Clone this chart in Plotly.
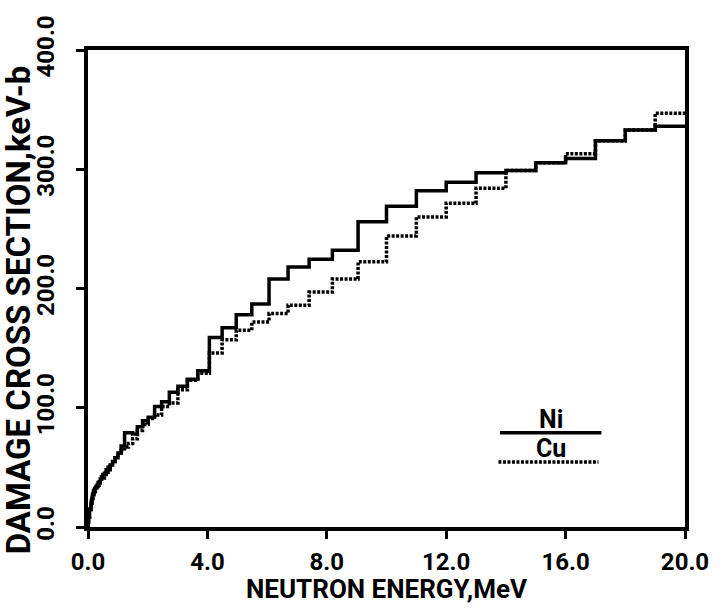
import plotly.graph_objects as go

# Lower edges of the energy groups (MeV); the last group ends at 20 MeV
group_low_mev = [
    0.0, 0.001, 0.01, 0.02, 0.05,
    0.100, 0.111, 0.123, 0.136, 0.150, 0.166, 0.183, 0.202, 0.224, 0.247,
    0.273, 0.302, 0.334, 0.369, 0.408, 0.450, 0.498, 0.550, 0.608, 0.672,
    0.743, 0.821, 0.907,
    1.003, 1.108, 1.225, 1.353, 1.496, 1.653, 1.827, 2.019, 2.231, 2.466,
    2.725, 3.012, 3.329, 3.679,
    4.066, 4.493, 4.966, 5.488, 6.065, 6.703, 7.408, 8.187, 9.048,
    10.0, 11.0, 12.0, 13.0, 14.0, 15.0, 16.0, 17.0, 18.0, 19.0,
]
group_top_mev = 20.0

# Group-averaged damage cross sections (keV-b)
ni_damage = [
    0.5, 1, 4, 8, 15,
    20, 22, 23, 25, 27, 28, 30, 31, 32, 33,
    34, 35, 37, 38, 40, 42, 44, 45, 48, 50,
    52, 55, 58,
    62, 68, 79, 79, 78, 84, 89, 92, 101, 105,
    113, 118, 124, 131,
    159, 167, 178, 187, 208, 218, 224.5, 232, 256,
    269, 282, 289, 297, 299, 305.5, 309, 324, 333, 336,
]
cu_damage = [
    0.5, 1, 3, 6, 12,
    17, 19, 20, 22, 24, 26, 27, 29, 30, 31,
    33, 34, 35, 37, 38, 40, 41, 44, 46, 48,
    51, 55, 58,
    62, 64, 67, 70, 74, 81, 86, 91, 94, 101,
    104, 115, 123, 129,
    146, 157, 165, 172, 179, 186, 197, 208, 222.5,
    244, 260, 271.5, 284, 299, 305.5, 313, 324, 333, 347,
]

x_ticks = [0, 4, 8, 12, 16, 20]
x_tick_text = ["0.0", "4.0", "8.0", "12.0", "16.0", "20.0"]
y_ticks = [0, 100, 200, 300, 400]
y_tick_text = ["0.0", "100.0", "200.0", "300.0", "400.0"]

FONT = "Roboto, Liberation Sans, sans-serif"
DOTTED = "3px,1.5px"


def step_xy(values):
    xs = list(group_low_mev) + [group_top_mev]
    ys = list(values) + [values[-1]]
    return xs, ys


fig = go.Figure()

nx, ny = step_xy(ni_damage)
fig.add_trace(go.Scatter(x=nx, y=ny, mode="lines", line_shape="hv",
                         line=dict(color="black", width=3.5), name="Ni",
                         showlegend=False))
cx, cy = step_xy(cu_damage)
fig.add_trace(go.Scatter(x=cx, y=cy, mode="lines", line_shape="hv",
                         line=dict(color="black", width=3.5, dash=DOTTED),
                         name="Cu", showlegend=False))

# key in the lower right corner: label above a line sample
fig.add_trace(go.Scatter(x=[13.8, 17.2], y=[79, 79], mode="lines",
                         line=dict(color="black", width=3.5), showlegend=False,
                         hoverinfo="skip"))
fig.add_trace(go.Scatter(x=[13.75, 17.1], y=[54.5, 54.5], mode="lines",
                         line=dict(color="black", width=3.5, dash=DOTTED),
                         showlegend=False, hoverinfo="skip"))
fig.add_annotation(x=15.5, y=79, xref="x", yref="y", text="<b>Ni</b>",
                   showarrow=False, yanchor="bottom", xanchor="center",
                   yshift=-3,
                   font=dict(family=FONT, size=25, color="black"))
fig.add_annotation(x=15.5, y=54.5, xref="x", yref="y", text="<b>Cu</b>",
                   showarrow=False, yanchor="bottom", xanchor="center",
                   yshift=-3,
                   font=dict(family=FONT, size=25, color="black"))

# axis titles
fig.add_annotation(x=0.5, y=-0.13, xref="paper", yref="paper",
                   text="<b>NEUTRON ENERGY,MeV</b>", showarrow=False,
                   xanchor="center", yanchor="middle",
                   font=dict(family=FONT, size=26, color="black"))
fig.add_annotation(x=-0.115, y=0.455, xref="paper", yref="paper",
                   text="<b>DAMAGE CROSS SECTION,keV-b</b>", showarrow=False,
                   textangle=-90, xanchor="center", yanchor="middle",
                   font=dict(family=FONT, size=33, color="black"))

axis_common = dict(
    showline=True, linecolor="black", linewidth=4, mirror=True,
    ticks="outside", ticklen=8, tickwidth=3, tickcolor="black",
    showgrid=False, zeroline=False,
    tickfont=dict(family=FONT, size=24, color="black", weight="bold"),
)

fig.update_xaxes(range=[0, 20], tickvals=x_ticks, ticktext=x_tick_text,
                 ticklabelstandoff=2, **axis_common)
fig.update_yaxes(range=[0, 400], tickvals=y_ticks, ticktext=y_tick_text,
                 tickangle=-90, ticklabelstandoff=12, **axis_common)

fig.update_layout(
    width=721, height=612,
    margin=dict(l=88, r=29, t=50, b=85),
    plot_bgcolor="white", paper_bgcolor="white",
    showlegend=False,
)

fig.write_html("out.html")
